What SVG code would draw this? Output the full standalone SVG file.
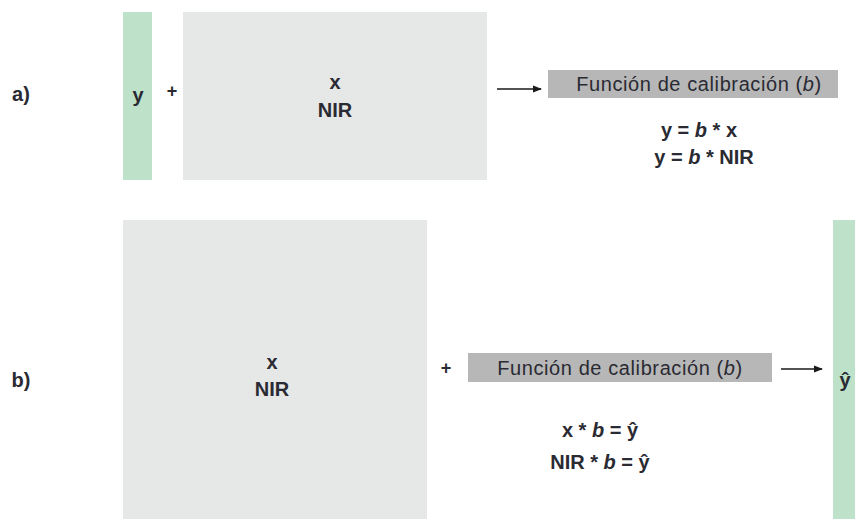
<svg xmlns="http://www.w3.org/2000/svg" width="855" height="519" viewBox="0 0 855 519">
<style>
text{font-family:"Liberation Sans",Arial,sans-serif;font-size:20px;fill:#2a2a33;text-anchor:middle}
.b{font-weight:bold}
.mat{fill:#e6e7e7}
.vec{fill:#bde2c9}
.fn{fill:#b7b7b7}
.fnt{letter-spacing:0.6px}
.pl{font-size:18px;font-weight:bold}
</style>
<defs>
<marker id="ah" markerWidth="9" markerHeight="8" refX="8" refY="4" orient="auto" markerUnits="userSpaceOnUse">
<path d="M0,0.5 L9,4 L0,7.5 Z" fill="#1a1a1a"/>
</marker>
</defs>
<g id="a-label"><text class="b" x="21" y="101">a)</text></g>
<g id="a-y"><rect class="vec" x="123" y="12" width="29" height="168"/><text class="b" x="138" y="102">y</text></g>
<g id="a-plus"><text class="pl" x="172" y="97">+</text></g>
<g id="a-x"><rect class="mat" x="183" y="12" width="304" height="168"/><text class="b" x="335" y="89">x</text><text class="b" x="335" y="117">NIR</text></g>
<g id="a-fn"><rect class="fn" x="548" y="70" width="290" height="28"/><text class="fnt" x="699" y="91">Función de calibración (<tspan font-style="italic">b</tspan>)</text></g>
<g id="a-eq"><text class="b" x="699" y="137">y = <tspan font-style="italic">b</tspan> * x</text><text class="b" x="704" y="164">y = <tspan font-style="italic">b</tspan> * NIR</text></g>
<g id="b-label"><text class="b" x="21" y="387">b)</text></g>
<g id="b-x"><rect class="mat" x="123" y="220" width="304" height="299"/><text class="b" x="272" y="369">x</text><text class="b" x="272" y="396">NIR</text></g>
<g id="b-plus"><text class="pl" x="446" y="374">+</text></g>
<g id="b-fn"><rect class="fn" x="468" y="353" width="304" height="29"/><text class="fnt" x="620" y="375">Función de calibración (<tspan font-style="italic">b</tspan>)</text></g>
<g id="b-eq"><text class="b" x="600" y="437">x * <tspan font-style="italic">b</tspan> = ŷ</text><text class="b" x="600" y="469">NIR * <tspan font-style="italic">b</tspan> = ŷ</text></g>
<g id="b-yhat"><rect class="vec" x="833" y="220" width="22" height="299"/><text class="b" x="845" y="387">ŷ</text></g>
<g id="connectors" stroke="#1a1a1a" stroke-width="1.5">
<line x1="497" y1="89" x2="541" y2="89" marker-end="url(#ah)"/>
<line x1="781" y1="369" x2="822" y2="369" marker-end="url(#ah)"/>
</g>
</svg>
